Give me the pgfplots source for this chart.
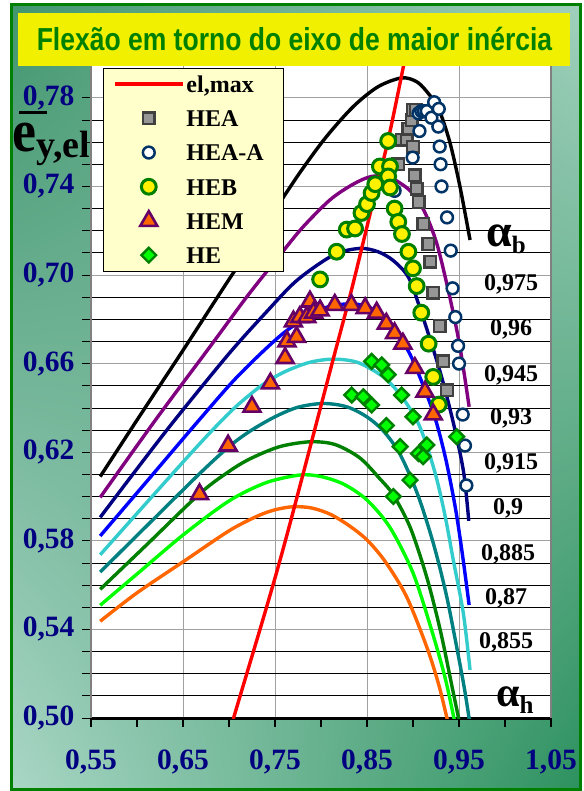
\documentclass[border=0pt]{standalone}
\usepackage{fontspec}
\setmainfont{Liberation Serif}
\newfontfamily\titlefont{Liberation Sans}
\usepackage{pgfplots}
\pgfplotsset{compat=1.18}
\usetikzlibrary{shadings}
\definecolor{navyt}{RGB}{0,0,128}
\definecolor{fgreen}{RGB}{0,128,0}
\definecolor{legfill}{RGB}{255,255,204}
\definecolor{titley}{RGB}{240,240,0}
\definecolor{cpurple}{RGB}{128,0,128}
\definecolor{cnavy}{RGB}{0,0,128}
\definecolor{cblue}{RGB}{0,0,255}
\definecolor{ccyan}{RGB}{51,204,204}
\definecolor{cteal}{RGB}{0,128,128}
\definecolor{cdgreen}{RGB}{0,128,0}
\definecolor{clime}{RGB}{0,255,0}
\definecolor{corange}{RGB}{255,102,0}
\definecolor{heaA}{RGB}{0,51,102}
\definecolor{heafill}{RGB}{150,150,150}
\definecolor{headraw}{RGB}{64,64,64}
\definecolor{hemdraw}{RGB}{102,0,102}
\definecolor{gridgray}{RGB}{160,160,160}
\definecolor{bgUL}{RGB}{65,150,110}
\definecolor{bgUR}{RGB}{160,208,188}
\definecolor{bgLL}{RGB}{170,215,198}
\definecolor{bgLR}{RGB}{45,145,95}
\begin{document}
\begin{tikzpicture}
\useasboundingbox (0pt,0pt) rectangle (583pt,-791pt);
\fill[white] (0pt,0pt) rectangle (583pt,-791pt);
\shade[upper left=bgUL, upper right=bgUR, lower left=bgLL, lower right=bgLR] (11pt,-5pt) rectangle (580pt,-789pt);
\draw[fgreen, line width=3pt] (11pt,-5pt) rectangle (580pt,-789pt);
\begin{axis}[
  at={(91pt,-718pt)}, anchor=south west,
  scale only axis, width=460pt, height=664.5pt,
  xmin=0.55, xmax=1.05, ymin=0.5, ymax=0.8,
  axis background/.style={fill=white},
  xtick={0.55,0.65,0.75,0.85,0.95,1.05},
  xticklabels={{0,55},{0,65},{0,75},{0,85},{0,95},{1,05}},
  minor x tick num=1,
  ytick={0.50,0.54,0.58,0.62,0.66,0.70,0.74,0.78},
  yticklabels={{0,50},{0,54},{0,58},{0,62},{0,66},{0,70},{0,74},{0,78}},
  minor y tick num=3,
  ymajorgrids, yminorgrids, xmajorgrids,
  major grid style={draw=gridgray, line width=0.8pt},
  minor grid style={draw=black, line width=0.8pt},
  tick align=outside, tick pos=left,
  major tick length=9pt, minor tick length=9pt,
  every x tick/.style={black, line width=1.8pt},
  every y tick/.style={black, line width=0.8pt},
  separate axis lines,
  x axis line style={black, line width=3pt},
  y axis line style={gray, line width=2.4pt},
  xticklabel style={font=\bfseries\fontsize{29.5}{29.5}\selectfont, text=navyt, yshift=-19pt},
  yticklabel style={font=\bfseries\fontsize{29.5}{29.5}\selectfont, text=navyt, xshift=-4pt},
  legend image code/.code={\draw[mark repeat=2,mark phase=2,#1] plot coordinates {(0pt,0pt) (34pt,0pt) (68pt,0pt)};},
  legend cell align=left,
  legend style={at={(axis cs:0.5627,0.7935)}, anchor=north west, fill=legfill, draw=black, line width=0.8pt,
    font=\bfseries\fontsize{24}{26}\selectfont, inner xsep=10pt, inner ysep=4pt, row sep=10.5pt},
]
% alpha_b curves
\addplot[black, line width=3.4pt, smooth, forget plot] coordinates {
(0.560,0.609)(0.600,0.6345)(0.650,0.666)(0.700,0.698)(0.740,0.723)(0.775,0.745)(0.805,0.762)(0.835,0.776)(0.862,0.785)(0.888,0.789)(0.905,0.787)(0.9185,0.781)(0.928,0.775)(0.940,0.760)(0.951,0.740)(0.962,0.7158)};
\addplot[cpurple, line width=3.4pt, smooth, forget plot] coordinates {
(0.560,0.5996)(0.620,0.6345)(0.680,0.668)(0.720,0.6905)(0.7554,0.709)(0.780,0.7215)(0.810,0.734)(0.835,0.741)(0.855,0.7445)(0.875,0.744)(0.897,0.738)(0.912,0.729)(0.926,0.714)(0.940,0.690)(0.951,0.6676)(0.961,0.6405)};
\addplot[cnavy, line width=3.4pt, smooth, forget plot] coordinates {
(0.560,0.5906)(0.600,0.6125)(0.641,0.6345)(0.700,0.6645)(0.740,0.683)(0.7736,0.6975)(0.8134,0.709)(0.842,0.712)(0.862,0.7105)(0.8786,0.7065)(0.895,0.699)(0.908,0.6845)(0.929,0.657)(0.944,0.633)(0.955,0.611)(0.9606,0.589)};
\addplot[cblue, line width=3.4pt, smooth, forget plot] coordinates {
(0.560,0.5822)(0.610,0.6065)(0.6685,0.635)(0.710,0.6545)(0.759,0.6737)(0.800,0.6845)(0.830,0.687)(0.852,0.6855)(0.871,0.680)(0.887,0.671)(0.9004,0.661)(0.922,0.638)(0.935,0.618)(0.946,0.595)(0.954,0.573)(0.961,0.551)};
\addplot[ccyan, line width=3.4pt, smooth, forget plot] coordinates {
(0.560,0.5737)(0.610,0.597)(0.6685,0.624)(0.7047,0.6395)(0.735,0.650)(0.759,0.656)(0.787,0.6605)(0.8134,0.662)(0.840,0.6605)(0.8677,0.654)(0.887,0.6455)(0.904,0.6345)(0.915,0.623)(0.9257,0.608)(0.935,0.591)(0.9438,0.5713)(0.9547,0.5473)(0.962,0.5217)};
\addplot[cteal, line width=3.4pt, smooth, forget plot] coordinates {
(0.560,0.5659)(0.610,0.5865)(0.6685,0.6105)(0.700,0.6225)(0.7228,0.6295)(0.750,0.636)(0.775,0.6403)(0.8025,0.642)(0.828,0.6405)(0.8497,0.636)(0.868,0.6295)(0.886,0.619)(0.905,0.601)(0.922,0.579)(0.936,0.556)(0.9475,0.532)(0.956,0.513)(0.962,0.497)};
\addplot[cdgreen, line width=3.4pt, smooth, forget plot] coordinates {
(0.560,0.5581)(0.610,0.578)(0.6685,0.6014)(0.700,0.6113)(0.7228,0.617)(0.755,0.6225)(0.788,0.6247)(0.815,0.6235)(0.842,0.6175)(0.864,0.608)(0.8786,0.6007)(0.897,0.586)(0.915,0.5635)(0.930,0.539)(0.943,0.513)(0.953,0.493)};
\addplot[clime, line width=3.4pt, smooth, forget plot] coordinates {
(0.560,0.5509)(0.600,0.565)(0.650,0.5826)(0.700,0.598)(0.740,0.6062)(0.777,0.6097)(0.800,0.609)(0.825,0.6055)(0.850,0.5984)(0.875,0.586)(0.900,0.5655)(0.920,0.540)(0.935,0.518)(0.947,0.495)};
\addplot[corange, line width=3.4pt, smooth, forget plot] coordinates {
(0.560,0.5437)(0.600,0.5565)(0.650,0.5705)(0.700,0.5845)(0.730,0.591)(0.750,0.594)(0.770,0.5954)(0.790,0.5948)(0.810,0.592)(0.830,0.587)(0.850,0.5804)(0.870,0.5705)(0.893,0.5548)(0.915,0.532)(0.928,0.515)(0.938,0.498)};
% el,max
\addplot[red, line width=3.4pt, smooth] coordinates {
(0.699,0.490)(0.705,0.500)(0.741,0.5503)(0.7645,0.585)(0.813,0.6616)(0.833,0.693)(0.853,0.727)(0.873,0.761)(0.891,0.797)(0.894,0.803)};
\addlegendentry{\strut el,max}
% HEA
\addplot[only marks, mark=square*, mark size=5.8pt, mark options={fill=heafill, draw=headraw, line width=2.4pt}] coordinates {
(0.884,0.750)(0.8876,0.761)(0.893,0.761)(0.895,0.766)(0.8985,0.770)(0.900,0.7745)(0.903,0.7745)(0.900,0.758)(0.902,0.745)(0.904,0.739)(0.906,0.733)(0.911,0.723)(0.9166,0.714)(0.919,0.706)(0.922,0.692)(0.929,0.677)(0.933,0.661)(0.937,0.648)};
\addlegendentry{\strut HEA}
% HEA-A
\addplot[only marks, mark=*, mark size=5.9pt, mark options={fill=white, draw=heaA, line width=2.5pt}] coordinates {
(0.880,0.738)(0.8996,0.753)(0.907,0.765)(0.906,0.773)(0.909,0.774)(0.912,0.774)(0.915,0.774)(0.920,0.771)(0.923,0.778)(0.928,0.775)(0.9275,0.767)(0.929,0.758)(0.930,0.750)(0.931,0.740)(0.937,0.726)(0.941,0.711)(0.943,0.694)(0.946,0.681)(0.949,0.668)(0.950,0.660)(0.954,0.637)(0.9565,0.623)(0.958,0.605)};
\addlegendentry{\strut HEA-A\hspace*{8pt}}
% HEB
\addplot[only marks, mark=*, mark size=7.4pt, mark options={fill=yellow, draw=fgreen, line width=3pt}] coordinates {
(0.799,0.698)(0.817,0.7105)(0.828,0.7205)(0.837,0.721)(0.844,0.728)(0.850,0.732)(0.855,0.737)(0.859,0.741)(0.864,0.749)(0.873,0.7605)(0.875,0.749)(0.873,0.7445)(0.875,0.7395)(0.880,0.730)(0.884,0.724)(0.888,0.7185)(0.895,0.7105)(0.900,0.703)(0.904,0.695)(0.909,0.683)(0.917,0.669)(0.922,0.654)(0.928,0.6415)};
\addlegendentry{\strut HEB}
% HEM
\addplot[only marks, mark=triangle*, mark size=9.8pt, mark options={fill=corange, draw=hemdraw, line width=2.6pt}] coordinates {
(0.668,0.601)(0.699,0.623)(0.725,0.6405)(0.745,0.651)(0.761,0.6625)(0.763,0.670)(0.7735,0.672)(0.770,0.679)(0.777,0.681)(0.7845,0.681)(0.788,0.688)(0.792,0.683)(0.799,0.684)(0.815,0.6865)(0.833,0.6865)(0.848,0.685)(0.8605,0.683)(0.871,0.678)(0.880,0.6737)(0.889,0.669)(0.902,0.658)(0.913,0.6473)(0.922,0.637)};
\addlegendentry{\strut HEM}
% HE
\addplot[only marks, mark=square*, mark size=5.2pt, mark options={rotate=45, fill=clime, draw=fgreen, line width=2.4pt}] coordinates {
(0.8334,0.6458)(0.846,0.645)(0.855,0.6413)(0.855,0.661)(0.866,0.6594)(0.873,0.655)(0.871,0.632)(0.8876,0.6458)(0.886,0.6225)(0.8786,0.600)(0.8967,0.6074)(0.900,0.636)(0.906,0.6194)(0.911,0.618)(0.915,0.6233)(0.9475,0.627)};
\addlegendentry{\strut HE}
\end{axis}
% title
\fill[titley] (18pt,-13pt) rectangle (570pt,-66pt);
\node[text=fgreen] at (294.5pt,-39pt) {\scalebox{1}[1.2]{\titlefont\bfseries\fontsize{26.5}{26.5}\selectfont Flexão em torno do eixo de maior inércia}};
% y label
\draw[black, line width=3pt] (19pt,-113pt) -- (47pt,-113pt);
\node[anchor=base west, inner sep=0pt] at (12pt,-152pt) {\bfseries\scalebox{1}[1.12]{\fontsize{54}{54}\selectfont e}\raisebox{-6pt}{\fontsize{38}{38}\selectfont y,el}};
% alpha labels
\node[anchor=base west, inner sep=0pt] at (486pt,-247pt) {\bfseries\fontsize{46}{46}\selectfont α\raisebox{-7pt}{\fontsize{25}{25}\selectfont b}};
\node[anchor=base west, inner sep=0pt] at (496pt,-706pt) {\bfseries\fontsize{42}{42}\selectfont α\raisebox{-7pt}{\fontsize{25}{25}\selectfont h}};
\begin{scope}[every node/.style={font=\bfseries\fontsize{24}{24}\selectfont, inner sep=0pt}]
\node at (511pt,-284pt) {0,975};
\node at (511pt,-329pt) {0,96};
\node at (511pt,-375pt) {0,945};
\node at (511pt,-418pt) {0,93};
\node at (511pt,-463pt) {0,915};
\node at (508pt,-508pt) {0,9};
\node at (508pt,-554pt) {0,885};
\node at (506pt,-598pt) {0,87};
\node at (506pt,-642pt) {0,855};
\end{scope}
\end{tikzpicture}
\end{document}
